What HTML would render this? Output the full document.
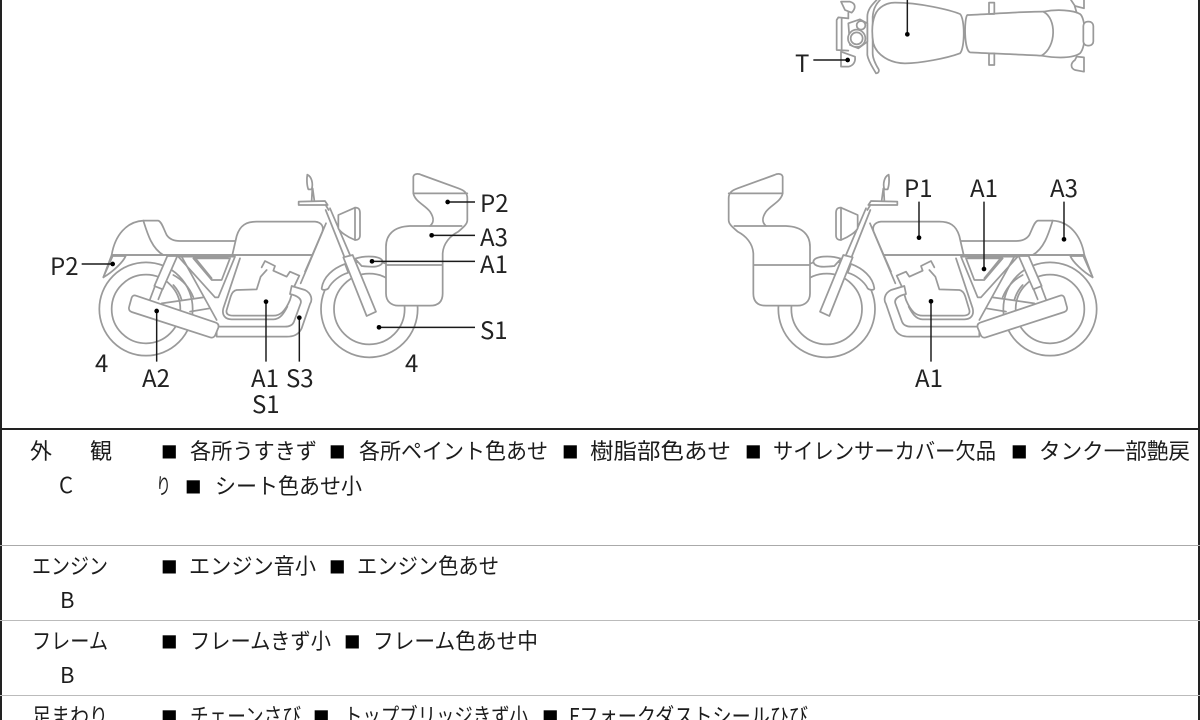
<!DOCTYPE html>
<html lang="ja">
<head>
<meta charset="utf-8">
<title>車両状態図</title>
<style>
html,body{margin:0;padding:0;background:#fff;width:1200px;height:720px;overflow:hidden}
svg{display:block;filter:blur(.35px)}
.b{fill:none;stroke:#9a9a9a;stroke-width:5.2;stroke-linejoin:round;stroke-linecap:round}
.w{fill:#fff}
.l{stroke:#1a1a1a;stroke-width:4.4;fill:none}
.d{fill:#000}
text{font-family:"Liberation Sans","Noto Sans CJK JP",sans-serif;fill:#222}
.lab{font-family:"Noto Sans CJK JP","Liberation Sans",sans-serif;font-size:24px;fill:#222}
.t{font-family:"Noto Sans CJK JP","Liberation Sans",sans-serif;font-size:22px;fill:#1c1c1c}
.s{font-family:"Noto Sans CJK JP","Liberation Sans",sans-serif;font-size:16.5px;fill:#000}
</style>
</head>
<body>
<svg width="1200" height="720" viewBox="0 0 1200 720" xmlns="http://www.w3.org/2000/svg">
<rect width="1200" height="720" fill="#fff"/>
<defs>
<g id="bike" class="b">
  <!-- wheels -->
  <circle cx="258" cy="447" r="140"/>
  <circle cx="258" cy="447" r="103"/>
  <circle cx="928" cy="447" r="145"/>
  <circle cx="928" cy="447" r="106"/>
  <path d="M340 345 A130 130 0 0 1 400 412 M340 375 A110 110 0 0 1 365 420"/>
  <!-- rear cowl and seat -->
  <path class="w" d="M130 352 L155 285 C165 225 200 185 250 182 L295 182 C305 185 310 205 320 225 C330 240 345 243 360 243 L530 243 L520 285 L155 285"/>
  <path d="M250 182 C262 220 275 265 310 285"/>
  <path class="w" d="M130 352 C160 335 190 305 197 288 L158 288 Z"/>
  <!-- frame triangle -->
  <path class="w" d="M355 290 L465 412 L475 412 L525 290 Z"/>
  <path d="M400 295 L455 360 L485 360 L510 295 M400 295 L505 295"/>
  <path d="M408 297 L455 355"/>
  <!-- shock -->
  <path class="w" d="M322 288 L352 288 L308 388 L283 378 Z"/>
  <path d="M285 378 L270 418 M307 388 L295 418"/>
  <!-- swing arm -->
  <path d="M305 430 L430 412 M390 455 L450 445"/>
  <path d="M365 290 L470 480"/>
  <!-- tank -->
  <path class="w" d="M517 285 L530 228 C540 195 560 185 590 185 L765 185 C785 187 792 200 787 215 L757 285 Z"/>
  <path d="M155 285 L757 285"/>
  <!-- frame to neck -->
  <path d="M798 190 L722 370 M757 285 L735 335"/>
  <path d="M540 295 L490 445 C485 465 495 478 515 478 L640 478 C660 478 672 460 682 440"/>
  <!-- engine -->
  <path class="w" d="M605 322 L615 303 L645 318 L640 332 L680 350 L690 335 L718 347 L700 385 L690 420 C675 455 660 467 640 467 L520 467 C505 467 497 462 500 450 L512 410 C515 400 520 392 530 390 L590 388 L602 350 L620 330"/>
  <!-- exhaust -->
  <path class="w" d="M695 378 L735 390 C755 400 758 420 750 432 L725 505 C715 525 700 530 680 530 L470 530 L470 500 L675 500 C690 500 698 495 702 485 L722 430 C726 418 715 408 690 402 Z"/>
  <!-- muffler -->
  <path class="w" d="M228 407 L465 487 C475 490 477 496 475 503 L466 525 C463 532 456 534 450 532 L215 456 C207 453 205 446 208 438 L215 413 C217 407 222 405 228 407 Z"/>
  <!-- front fender -->
  <path class="w" d="M785 385 C790 350 820 325 855 312 L865 338 C840 345 815 365 805 385 C800 390 785 392 785 385 Z"/>
  <path class="w" d="M885 296 C920 285 965 288 968 305 C965 322 940 322 905 318 Z"/>
  <!-- forks -->
  <path d="M797 150 L852 288 M810 145 L870 285"/>
  <path class="w" d="M850 292 L878 285 L948 455 L920 468 Z"/>
  <!-- handlebar & mirror -->
  <path class="w" d="M716 125 L795 123 L803 135 L716 135 Z"/>
  <path d="M797 135 L806 150"/>
  <path d="M755 122 L757 85 M763 122 L758 85"/>
  <path class="w" d="M742 44 C755 50 760 70 755 88 L745 88 C740 75 740 55 742 44 Z"/>
  <!-- headlight -->
  <path class="w" d="M835 165 L885 143 C898 143 900 150 900 160 L900 225 C900 240 890 240 885 240 C860 230 840 215 835 205 Z"/>
  <path d="M885 143 L885 240"/>
  <!-- pannier -->
  <path class="w" d="M1060 50 C1062 40 1075 40 1085 45 L1195 85 C1215 92 1222 100 1222 115 L1222 180 C1222 195 1205 205 1195 215 C1170 228 1150 250 1148 280 L1148 400 C1148 425 1135 437 1110 437 L1015 437 C995 437 978 425 978 400 L978 260 C978 225 1000 200 1050 198 L1110 198 C1125 185 1120 170 1110 155 C1095 135 1065 125 1060 100 Z"/>
  <path d="M1060 100 L1222 100 M1110 198 L1205 198 M980 315 L1148 315"/>
</g>
</defs>

<!-- left bike -->
<g transform="translate(60,160) scale(.33333)">
  <use href="#bike"/>
  <g class="l">
    <path d="M65 312H158M1163 126H1245M1115 226H1245M936 304H1245M957 502H1245M290 453V605M618 425V605M718 473V605"/>
  </g>
  <g class="d">
    <circle cx="158" cy="312" r="7"/><circle cx="1163" cy="126" r="7"/><circle cx="1115" cy="226" r="7"/><circle cx="936" cy="304" r="7"/><circle cx="957" cy="502" r="7"/><circle cx="290" cy="453" r="7"/><circle cx="618" cy="425" r="7"/><circle cx="718" cy="473" r="7"/>
  </g>
</g>
<!-- right bike -->
<g transform="matrix(-1,0,0,1,1196,0) translate(60,160) scale(.33333)">
  <use href="#bike"/>
</g>
<g transform="translate(710,160) scale(.33333)">
  <g class="l"><path d="M627 233V125M822 327V125M1062 238V125M663 424V605"/></g>
  <g class="d"><circle cx="627" cy="233" r="7"/><circle cx="822" cy="327" r="7"/><circle cx="1062" cy="238" r="7"/><circle cx="663" cy="424" r="7"/></g>
</g>
<!-- top view -->
<g transform="translate(780,0) scale(.33333)" class="b">
  <path d="M290 0 C275 15 262 30 262 50 L262 165 C265 185 280 205 288 220 C295 220 298 214 296 208 C285 190 278 175 278 160 L278 50 C280 30 285 15 300 0"/>
  <path class="w" d="M345 8 C420 8 510 30 540 42 C555 55 555 145 540 160 C500 175 420 190 375 190 C330 190 290 165 280 130 C275 100 275 70 285 45 C295 20 320 8 345 8 Z"/>
  <path class="w" d="M562 45 C620 43 720 35 790 35 C830 27 880 30 900 42 C918 55 920 140 900 160 C880 175 830 175 785 167 C720 163 620 160 570 157 C552 150 552 55 562 45 Z"/>
  <path d="M790 35 C830 55 830 140 785 167"/>
  <rect x="910" y="65" width="30" height="72" rx="13" class="w"/>
  <rect x="627" y="8" width="16" height="34"/>
  <rect x="627" y="160" width="16" height="35"/>
  <path d="M873 0 L885 18 L912 25 L912 0 M884 18 L890 38"/>
  <path d="M890 170 L885 180 C870 190 872 205 885 210 L912 215 L912 172 Z"/>
  <path d="M205 55 L175 52 L170 60 L170 150 L205 152 M185 55 L185 150"/>
  <path d="M183 5 L210 5 C228 10 228 25 215 38 L195 30 Z M205 38 L205 55"/>
  <path d="M183 200 L183 155 L225 170 C228 190 215 198 205 200 Z"/>
  <path class="w" d="M205 70 L240 58 L262 70 L262 125 L235 145 L210 135 Z"/>
  <circle cx="230" cy="115" r="26" class="w"/>
  <circle cx="230" cy="115" r="18"/>
  <circle cx="243" cy="76" r="13" class="w"/>
</g>
<g transform="translate(780,0) scale(.33333)">
  <path class="l" d="M382 0V103M100 180H203"/>
  <circle class="d" cx="382" cy="103" r="7"/><circle class="d" cx="203" cy="180" r="7"/>
</g>

<!-- diagram labels -->
<text class="lab" x="795" y="72">T</text>
<text class="lab" x="480" y="212">P2</text>
<text class="lab" x="480" y="246">A3</text>
<text class="lab" x="480" y="273">A1</text>
<text class="lab" x="480" y="339">S1</text>
<text class="lab" x="50" y="275">P2</text>
<text class="lab" x="95" y="372">4</text>
<text class="lab" x="405" y="372">4</text>
<text class="lab" x="142" y="387">A2</text>
<text class="lab" x="251" y="387">A1</text>
<text class="lab" x="286" y="387">S3</text>
<text class="lab" x="252" y="413">S1</text>
<text class="lab" x="904" y="197">P1</text>
<text class="lab" x="970" y="197">A1</text>
<text class="lab" x="1050" y="197">A3</text>
<text class="lab" x="915" y="387">A1</text>

<!-- table lines -->
<rect x="0" y="0" width="2" height="720" fill="#222"/>
<rect x="1198" y="0" width="2" height="720" fill="#222"/>
<rect x="0" y="428" width="1200" height="2" fill="#222"/>
<rect x="0" y="545" width="1200" height="1" fill="#aaa"/>
<rect x="0" y="620" width="1200" height="1" fill="#bbb"/>
<rect x="0" y="695" width="1200" height="1" fill="#bbb"/>

<!-- row 1 -->
<text class="t" x="30" y="459">外</text>
<text class="t" x="90" y="459">観</text>
<text class="t" x="59" y="493">C</text>
<text class="s" x="161" y="458">■</text>
<text class="t" x="190" y="459" textLength="127" lengthAdjust="spacingAndGlyphs">各所うすきず</text>
<text class="s" x="329" y="458">■</text>
<text class="t" x="359" y="459" textLength="189" lengthAdjust="spacingAndGlyphs">各所ペイント色あせ</text>
<text class="s" x="562" y="458">■</text>
<text class="t" x="590" y="459" textLength="141" lengthAdjust="spacingAndGlyphs">樹脂部色あせ</text>
<text class="s" x="745" y="458">■</text>
<text class="t" x="773" y="459" textLength="223" lengthAdjust="spacingAndGlyphs">サイレンサーカバー欠品</text>
<text class="s" x="1011" y="458">■</text>
<text class="t" x="1039" y="459" textLength="151" lengthAdjust="spacingAndGlyphs">タンク一部艶戻</text>
<text class="t" x="156" y="494" textLength="15" lengthAdjust="spacingAndGlyphs">り</text>
<text class="s" x="185" y="493">■</text>
<text class="t" x="215" y="494" textLength="147" lengthAdjust="spacingAndGlyphs">シート色あせ小</text>

<!-- row 2 -->
<text class="t" x="32" y="574" textLength="76" lengthAdjust="spacingAndGlyphs">エンジン</text>
<text class="t" x="60" y="608">B</text>
<text class="s" x="161" y="573">■</text>
<text class="t" x="189" y="574" textLength="127" lengthAdjust="spacingAndGlyphs">エンジン音小</text>
<text class="s" x="329" y="573">■</text>
<text class="t" x="357" y="574" textLength="142" lengthAdjust="spacingAndGlyphs">エンジン色あせ</text>

<!-- row 3 -->
<text class="t" x="32" y="649" textLength="76" lengthAdjust="spacingAndGlyphs">フレーム</text>
<text class="t" x="60" y="683">B</text>
<text class="s" x="161" y="648">■</text>
<text class="t" x="190" y="649" textLength="141" lengthAdjust="spacingAndGlyphs">フレームきず小</text>
<text class="s" x="344" y="648">■</text>
<text class="t" x="373" y="649" textLength="165" lengthAdjust="spacingAndGlyphs">フレーム色あせ中</text>

<!-- row 4 -->
<text class="t" x="32" y="724" textLength="76" lengthAdjust="spacingAndGlyphs">足まわり</text>
<text class="s" x="161" y="723">■</text>
<text class="t" x="190" y="724" textLength="111" lengthAdjust="spacingAndGlyphs">チェーンさび</text>
<text class="s" x="313" y="723">■</text>
<text class="t" x="344" y="724" textLength="184" lengthAdjust="spacingAndGlyphs">トップブリッジきず小</text>
<text class="s" x="542" y="723">■</text>
<text class="t" x="569" y="724" textLength="239" lengthAdjust="spacingAndGlyphs">Fフォークダストシールひび</text>
</svg>
</body>
</html>
